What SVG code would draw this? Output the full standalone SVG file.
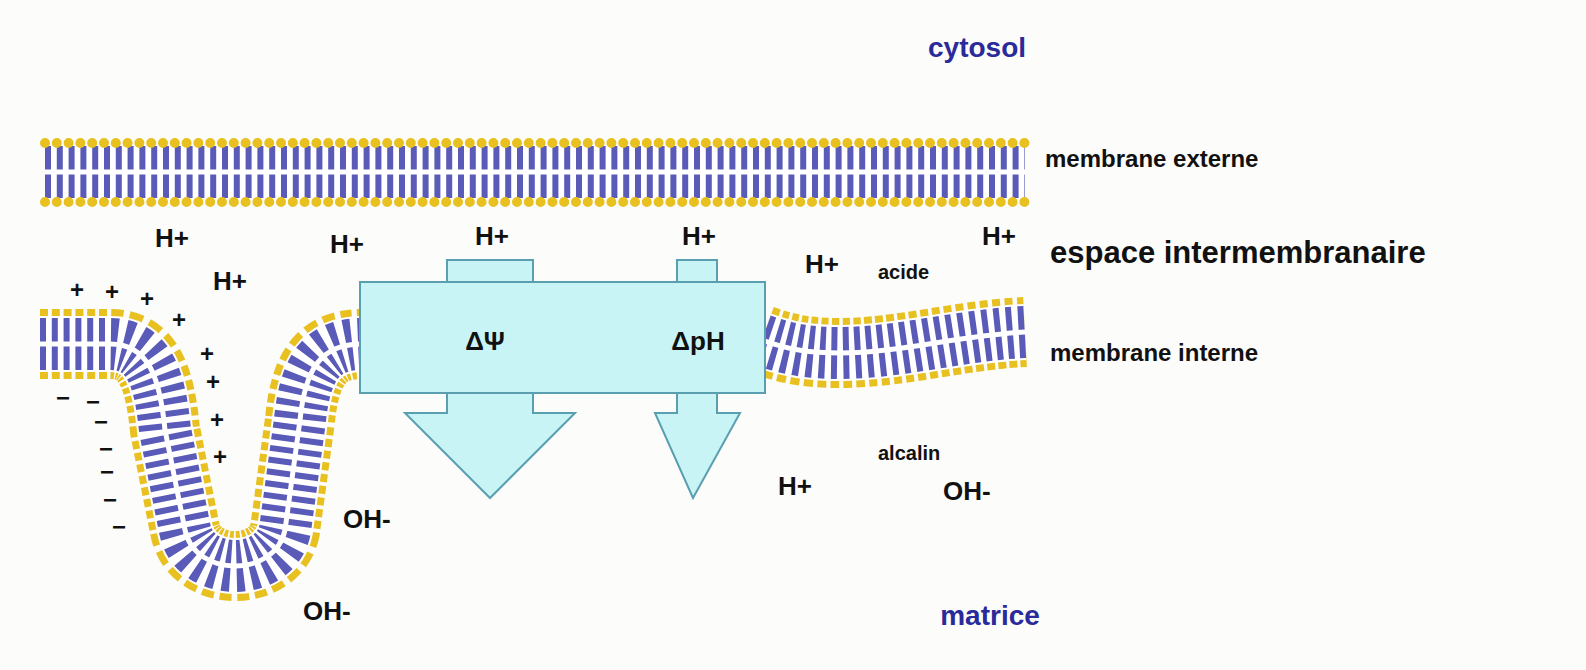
<svg xmlns="http://www.w3.org/2000/svg" width="1586" height="670" viewBox="0 0 1586 670">
<style>
.h{stroke:#e8c020;stroke-width:70;fill:none;stroke-dasharray:8 3.8}
.c{stroke:#fff;stroke-width:56;fill:none}
.t{stroke:#5a5ab8;stroke-width:52;fill:none;stroke-dasharray:6 5.8}
.g{stroke:#fff;stroke-width:5;fill:none}
.d{stroke:#e8c020;stroke-width:10;stroke-linecap:round;stroke-dasharray:0 11.8;fill:none}
text{font-family:"Liberation Sans",Arial,sans-serif;font-weight:bold;fill:#111}
.n{fill:#2a2a9a;font-size:28px}
.l{font-size:24px}
.p{font-size:26px}
.box{fill:#c8f4f6;stroke:#5a9fb0;stroke-width:2}
</style>
<rect width="1586" height="670" fill="#fcfcfa"/>
<g id="outer-membrane">
<path d="M45,172 L1025,172" class="c" style="stroke-width:60"/>
<path d="M45,172 L1025,172" class="t" style="stroke-dasharray:6 5.8"/>
<path d="M45,172 L1025,172" class="g"/>
<path d="M45,143 L1025,143" class="d"/>
<path d="M45,202 L1025,202" class="d"/>
</g>
<g id="inner-membrane">
<g id="imL">
<path d="M40,344 L110,344 C150,344 160,380 165,430 L185,530 C195,578 275,578 285,530 L300,420 C305,370 320,344 362,344" class="h"/>
<path d="M40,344 L110,344 C150,344 160,380 165,430 L185,530 C195,578 275,578 285,530 L300,420 C305,370 320,344 362,344" class="c"/>
<path d="M40,344 L110,344 C150,344 160,380 165,430 L185,530 C195,578 275,578 285,530 L300,420 C305,370 320,344 362,344" class="t"/>
<path d="M40,344 L110,344 C150,344 160,380 165,430 L185,530 C195,578 275,578 285,530 L300,420 C305,370 320,344 362,344" class="g"/>
</g>
<g id="imR">
<path d="M762,340 C790,350 810,353 840,353 C900,353 960,335 1025,332" class="h"/>
<path d="M762,340 C790,350 810,353 840,353 C900,353 960,335 1025,332" class="c"/>
<path d="M762,340 C790,350 810,353 840,353 C900,353 960,335 1025,332" class="t"/>
<path d="M762,340 C790,350 810,353 840,353 C900,353 960,335 1025,332" class="g"/>
</g>
</g>
<g id="complex">
<rect x="447" y="260" width="86" height="24" class="box"/>
<rect x="677" y="260" width="40" height="24" class="box"/>
<path d="M447,391 L447,413 L405,413 L490,498 L575,413 L533,413 L533,391 Z" class="box"/>
<path d="M677,391 L677,413 L655,413 L693,498 L740,413 L717,413 L717,391 Z" class="box"/>
<rect x="360" y="282" width="405" height="111" class="box"/>
<text x="485" y="350" text-anchor="middle" class="p">ΔΨ</text>
<text x="698" y="350" text-anchor="middle" class="p">ΔpH</text>
</g>
<g id="labels">
<text x="977" y="57" text-anchor="middle" class="n">cytosol</text>
<text x="990" y="625" text-anchor="middle" class="n">matrice</text>
<text x="1045" y="167" class="l">membrane externe</text>
<text x="1050" y="263" style="font-size:31px">espace intermembranaire</text>
<text x="1050" y="361" class="l">membrane interne</text>
<text x="878" y="279" style="font-size:20px">acide</text>
<text x="878" y="460" style="font-size:20px">alcalin</text>
<text x="155" y="247" class="p">H+</text>
<text x="330" y="253" class="p">H+</text>
<text x="213" y="290" class="p">H+</text>
<text x="475" y="245" class="p">H+</text>
<text x="682" y="245" class="p">H+</text>
<text x="805" y="273" class="p">H+</text>
<text x="982" y="245" class="p">H+</text>
<text x="778" y="495" class="p">H+</text>
<text x="943" y="500" class="p">OH-</text>
<text x="343" y="528" class="p">OH-</text>
<text x="303" y="620" class="p">OH-</text>
</g>
<g id="charges" style="font-size:24px">
<text x="70" y="298">+</text><text x="105" y="300">+</text><text x="140" y="307">+</text><text x="172" y="328">+</text>
<text x="200" y="362">+</text><text x="206" y="390">+</text><text x="210" y="428">+</text><text x="213" y="465">+</text>
<text x="56" y="406">−</text><text x="86" y="410">−</text><text x="94" y="430">−</text><text x="99" y="457">−</text>
<text x="100" y="480">−</text><text x="103" y="508">−</text><text x="112" y="535">−</text>
</g>
</svg>
